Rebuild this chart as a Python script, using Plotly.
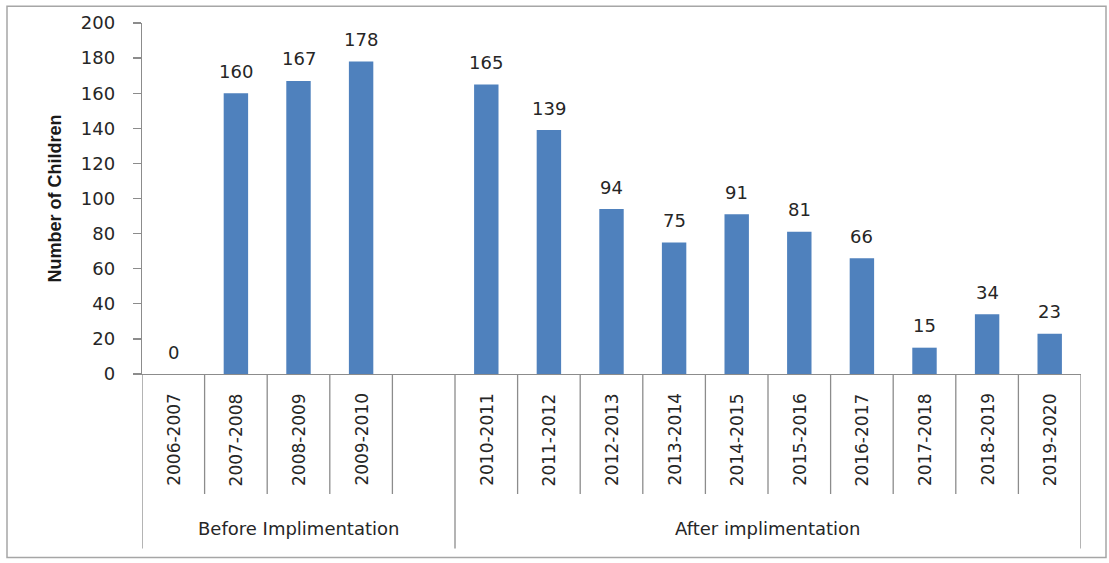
import plotly.graph_objects as go

# ---- data ----
categories_before = ["2006-2007", "2007-2008", "2008-2009", "2009-2010"]
values_before = [0, 160, 167, 178]
categories_after = ["2010-2011", "2011-2012", "2012-2013", "2013-2014", "2014-2015",
                    "2015-2016", "2016-2017", "2017-2018", "2018-2019", "2019-2020"]
values_after = [165, 139, 94, 75, 91, 81, 66, 15, 34, 23]
group_labels = ["Before Implimentation", "After implimentation"]
y_title = "Number of Children"

# ---- layout geometry ----
W, H = 1109, 563
L, R, T, B = 142, 28, 20, 189
PW, PH = W - L - R, H - T - B
X0_PX, Y0_PX = L, H - B  # plot origin in pixels


def px_x(p):
    return (p - X0_PX) / PW


def px_y(p):
    return (Y0_PX - p) / PH


# positions: before group, then one empty slot, then after group
x_before = list(range(len(categories_before)))
gap_slot = len(categories_before)
x_after = [gap_slot + 1 + i for i in range(len(categories_after))]
n_slots = len(categories_before) + 1 + len(categories_after)

xs = x_before + x_after
vals = values_before + values_after
cats = categories_before + categories_after

TEXT = "#262626"
AXIS = "#8c8c8c"
FONT = "DejaVu Sans"

fig = go.Figure()
fig.add_bar(x=xs, y=vals, width=0.39, marker=dict(color="#4F81BD", line=dict(width=0)),
            hoverinfo="skip")

ann = []
# value labels
for x, v in zip(xs, vals):
    ann.append(dict(x=x, y=v, xref="x", yref="y", text=str(v), showarrow=False,
                    yanchor="middle", yshift=22, font=dict(family=FONT, size=18, color=TEXT)))
# category labels (rotated)
for x, c in zip(xs, cats):
    ann.append(dict(x=x, y=0, xref="x", yref="paper", text=c, showarrow=False,
                    textangle=-90, xanchor="center", yanchor="top", yshift=-17,
                    font=dict(family=FONT, size=17, color=TEXT)))
# group labels
before_center = (x_before[0] - 0.5 + gap_slot + 0.5) / 2
after_center = (x_after[0] - 0.5 + x_after[-1] + 0.5) / 2
for xc, g in zip([before_center, after_center], group_labels):
    ann.append(dict(x=xc, y=0, xref="x", yref="paper", text=g, showarrow=False,
                    xanchor="center", yanchor="middle", yshift=-154,
                    font=dict(family=FONT, size=18, color=TEXT)))
# y axis title
ann.append(dict(x=px_x(54), y=0.5, xref="paper", yref="paper", text="<b>" + y_title + "</b>",
                showarrow=False, textangle=-90, xanchor="center", yanchor="middle",
                font=dict(family="Liberation Sans Narrow, Liberation Sans, Arial", size=18, color="#1a1a1a")))

shapes = []
short_end = px_y(495)
long_end = px_y(550)
group_bounds = [-0.5, gap_slot + 0.5, n_slots - 0.5]
for k in range(n_slots + 1):
    xb = k - 0.5
    yend = long_end if xb in group_bounds else short_end
    shapes.append(dict(type="line", xref="x", yref="paper", x0=xb, x1=xb, y0=0, y1=yend,
                       line=dict(color=AXIS, width=1.3)))
# outer chart border
shapes.append(dict(type="rect", xref="paper", yref="paper",
                   x0=px_x(7), x1=px_x(1106), y0=px_y(3), y1=px_y(559),
                   line=dict(color="#a6a6a6", width=1.5)))

fig.update_layout(
    width=W, height=H,
    margin=dict(l=L, r=R, t=T, b=B, pad=0),
    paper_bgcolor="white", plot_bgcolor="white",
    showlegend=False,
    annotations=ann, shapes=shapes,
    xaxis=dict(range=[-0.5, n_slots - 0.5], showticklabels=False, ticks="",
               showgrid=False, zeroline=False, showline=True, linecolor=AXIS, linewidth=1.3,
               fixedrange=True),
    yaxis=dict(range=[0, 200], tick0=0, dtick=20, ticks="outside", ticklen=8,
               tickcolor=AXIS, tickwidth=1.3, showgrid=False, zeroline=False,
               showline=True, linecolor=AXIS, linewidth=1.3, ticklabelstandoff=14,
               tickfont=dict(family=FONT, size=18, color=TEXT), fixedrange=True),
)

fig.write_html("out.html",
               config={"displayModeBar": False, "staticPlot": True},
               post_script="document.body.style.margin='0';document.body.style.overflow='hidden';")
